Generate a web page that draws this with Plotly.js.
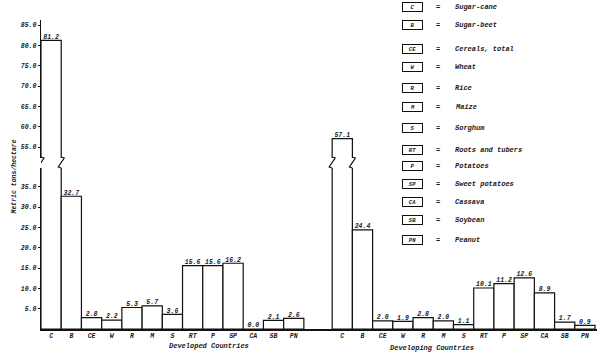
<!DOCTYPE html>
<html><head><meta charset="utf-8">
<script src="https://cdn.plot.ly/plotly-3.0.1.min.js"></script>
<style>html,body{margin:0;padding:0;background:#fff}#chart{width:600px;height:356px}</style>
</head><body><div id="chart"></div>
<script>
const categories = ['C','B','CE','W','R','M','S','RT','P','SP','CA','SB','PN'];
const cropNames = ['Sugar-cane','Sugar-beet','Cereals, total','Wheat','Rice','Maize','Sorghum','Roots and tubers','Potatoes','Sweet potatoes','Cassava','Soybean','Peanut'];
const developed = [81.2, 32.7, 2.8, 2.2, 5.3, 5.7, 3.6, 15.6, 15.6, 16.2, 0.0, 2.1, 2.6];
const developing = [57.1, 24.4, 2.0, 1.9, 2.8, 2.0, 1.1, 10.1, 11.2, 12.6, 8.9, 1.7, 0.9];
const groupNames = ['Developed Countries', 'Developing Countries'];
const lowerTicks = [5, 10, 15, 20, 25, 30, 35];
const upperTicks = [55, 60, 65, 70, 75, 80, 85];

// layout geometry (pixels)
const W = 600, H = 356, ML = 41, MR = 3, MT = 20, MB = 27;
const PW = W - ML - MR, PH = H - MT - MB;
const GAP = 1.4; // gap between groups in bar widths
const px = p => (p - ML) / PW;          // paper x from pixel
const py = p => (H - MB - p) / PH;      // paper y from pixel

const n = categories.length;
const xDev = categories.map((c, i) => i + 0.5);
const xDvg = categories.map((c, i) => n + GAP + i + 0.5);
const xAll = xDev.concat(xDvg);
const yAll = developed.concat(developing);
const labels = categories.concat(categories);

const font = {family: 'Liberation Mono, DejaVu Sans Mono, monospace', color: '#1a1a1a', weight: 'bold', style: 'italic'};
const f = s => Object.assign({}, font, {size: s});

const SPLIT = 45;
const barStyle = {color: '#ffffff', line: {color: '#111', width: 1.2}};
const traces = [
  {type: 'bar', x: xAll, y: yAll, width: 1, marker: barStyle, xaxis: 'x', yaxis: 'y', hoverinfo: 'skip', showlegend: false},
  {type: 'bar', x: xAll, y: yAll, width: 1, marker: barStyle, xaxis: 'x', yaxis: 'y2', hoverinfo: 'skip', showlegend: false},
  {type: 'scatter', mode: 'text', x: xAll.filter((x, i) => yAll[i] < SPLIT), y: yAll.filter(v => v < SPLIT),
   text: yAll.filter(v => v < SPLIT).map(v => v.toFixed(1)), textposition: 'top center', textfont: f(6.5),
   cliponaxis: false, xaxis: 'x', yaxis: 'y', showlegend: false, hoverinfo: 'skip'},
  {type: 'scatter', mode: 'text', x: xAll.filter((x, i) => yAll[i] >= SPLIT), y: yAll.filter(v => v >= SPLIT),
   text: yAll.filter(v => v >= SPLIT).map(v => v.toFixed(1)), textposition: 'top center', textfont: f(6.5),
   cliponaxis: false, xaxis: 'x', yaxis: 'y2', showlegend: false, hoverinfo: 'skip'}
];

const lowTopPx = 168, upBotPx = 158;
const lowerTop = (H - MB - lowTopPx) / 4.06;
const layout = {
  width: W, height: H,
  margin: {l: ML, r: MR, t: MT, b: MB},
  paper_bgcolor: '#fff', plot_bgcolor: 'rgba(0,0,0,0)',
  bargap: 0, showlegend: false,
  xaxis: {range: [0, PW / 20.22], showgrid: false, zeroline: false, showline: true, linecolor: '#111', linewidth: 1.5,
          tickvals: xAll, ticktext: labels, ticks: '', tickfont: f(6.5), anchor: 'y', fixedrange: true},
  yaxis: {domain: [0, py(lowTopPx)], range: [0, lowerTop], showgrid: false, zeroline: false, showline: true,
          linecolor: '#111', linewidth: 1.3, tickvals: lowerTicks, tickformat: '.1f', ticks: 'outside', ticklen: 2,
          tickcolor: '#111', tickfont: f(6.5), anchor: 'x'},
  yaxis2: {domain: [py(upBotPx), 1], range: [86.23 - (upBotPx - MT) / 4.07, 86.23], showgrid: false, zeroline: false,
           showline: true, linecolor: '#111', linewidth: 1.3, tickvals: upperTicks, tickformat: '.1f', ticks: 'outside',
           ticklen: 2, tickcolor: '#111', tickfont: f(6.5), anchor: 'x'},
  annotations: [], shapes: []
};

const ann = (o) => layout.annotations.push(Object.assign({xref: 'paper', yref: 'paper', showarrow: false, yanchor: 'middle'}, o));
// axis title
ann({text: 'Metric tons/hectare', x: px(8), y: py(177), textangle: -90, font: f(6.5)});
// group titles
ann({text: groupNames[0], x: px(167), y: py(346), font: f(7)});
ann({text: groupNames[1], x: px(476), y: py(348), font: f(7)});

// key on right
const rowPx = [7, 25, 49, 67, 88, 107, 128, 150, 166, 184, 202, 220, 240];
categories.forEach((c, i) => {
  ann({text: c, x: px(423), y: py(rowPx[i]), width: 17, height: 6, bordercolor: '#111', borderwidth: 1, borderpad: 1,
       font: f(5.5), align: 'center'});
  ann({text: '=', x: px(442), y: py(rowPx[i]), font: f(7)});
  ann({text: cropNames[i], x: px(453), y: py(rowPx[i]), xanchor: 'left', font: f(7)});
});

// break marks on the sugar-cane bars
const zig = (xd) => {
  const s = 1 / 20.22; // one pixel in x units
  return `M ${xd},${py(157)} L ${xd + 3 * s},${py(158)} L ${xd - 3 * s},${py(167)} L ${xd},${py(168)}`;
};
[0, n + GAP].forEach(x0 => {
  [x0, x0 + 1].forEach(xe => {
    layout.shapes.push({type: 'path', xref: 'x', yref: 'paper', path: zig(xe), line: {color: '#111', width: 1.2}});
  });
});

Plotly.newPlot('chart', traces, layout, {staticPlot: true, displayModeBar: false});
</script></body></html>
